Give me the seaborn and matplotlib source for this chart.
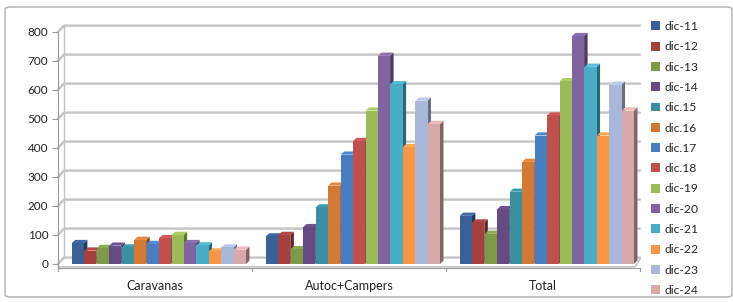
import matplotlib
matplotlib.use("Agg")
import matplotlib.pyplot as plt
import seaborn as sns
import pandas as pd
import numpy as np
from matplotlib.patches import Polygon, Patch, FancyBboxPatch
import matplotlib.colors as mcolors

categories = ["Caravanas", "Autoc+Campers", "Total"]
series = ["dic-11", "dic-12", "dic-13", "dic-14", "dic.15", "dic.16", "dic.17",
          "dic.18", "dic-19", "dic-20", "dic-21", "dic-22", "dic-23", "dic-24"]
caravanas = [72, 46, 55, 63, 57, 83, 69, 89, 100, 72, 64, 43, 57, 49]
autoc = [95, 100, 51, 127, 195, 270, 377, 424, 529, 718, 620, 403, 563, 483]
total = [166, 143, 104, 189, 249, 352, 443, 512, 630, 786, 680, 443, 618, 529]
colors = ["#3A6098", "#A4403D", "#7E9A48", "#654A84", "#3A8FA0", "#D27A35", "#4A7DC0",
          "#C0504D", "#9BBB59", "#8064A2", "#4BACC6", "#F79646", "#A9B8D9", "#D9A8A8"]
yticks = [0, 100, 200, 300, 400, 500, 600, 700, 800]

rows = []
for ci, cat in enumerate(categories):
    vals = [caravanas, autoc, total][ci]
    for s, v in zip(series, vals):
        rows.append({"cat": cat, "serie": s, "val": v})
df = pd.DataFrame(rows)

sns.set_style("white")
plt.rcParams['font.family'] = ['Lato', 'DejaVu Sans']

W, H = 733, 302
fig = plt.figure(figsize=(W / 100, H / 100), dpi=100)
ax = fig.add_axes([58 / W, (H - 268) / H, 582 / W, 236 / H])

sns.barplot(data=df, x="cat", y="val", hue="serie", palette=colors, order=categories,
            hue_order=series, width=0.9, gap=0.03, ax=ax, legend=False,
            saturation=1, edgecolor="none", linewidth=0)

ax.set_xlim(-0.52, 2.48)
ax.set_ylim(-14, 800)

# 3D effect for bars
for p in list(ax.patches):
    x, y0 = p.get_x(), p.get_y()
    w, h = p.get_width(), p.get_height()
    rgb = np.array(mcolors.to_rgb(p.get_facecolor()))
    dx = 3.5 / 194
    dy = 11
    z = 2 + x
    p.set_zorder(z)
    side = Polygon([(x + w, y0), (x + w + dx, y0 + dy), (x + w + dx, h + dy), (x + w, h)],
                   closed=True, facecolor=rgb * 0.6, edgecolor="none", zorder=z - 0.0001)
    top = Polygon([(x, h), (x + dx, h + dy), (x + w + dx, h + dy), (x + w, h)],
                  closed=True, facecolor=np.clip(rgb * 1.1, 0, 1), edgecolor="none",
                  zorder=z - 0.00005)
    ax.add_patch(side)
    ax.add_patch(top)

# back wall gridlines with perspective
x0 = -0.52
x1 = 2.48
dxw = 6 / 194
dyw = 22
gc = "#C4C4C4"
for v in yticks:
    ax.plot([x0, x0 + dxw, x1], [v, v + dyw, v + dyw], color=gc, lw=1.7,
            zorder=0.5, clip_on=False, solid_joinstyle="round")
# left wall vertical
ax.plot([x0 + dxw, x0 + dxw], [dyw, 800 + dyw], color=gc, lw=1.0, zorder=0.5, clip_on=False)
# floor
ax.plot([x0, x1 - 0.025, x1], [-10, -10, dyw - 6], color=gc, lw=1.2, zorder=0.6, clip_on=False)

# axes styling
for s in ["top", "right"]:
    ax.spines[s].set_visible(False)
for s in ["left", "bottom"]:
    ax.spines[s].set_color("#9A9A9A")
    ax.spines[s].set_linewidth(0.8)
ax.set_yticks(yticks)
ax.set_yticklabels([str(v) for v in yticks], fontsize=8.5, color="#222222")
ax.tick_params(axis="y", length=4, width=0.8, color="#9A9A9A", pad=3, left=True)
ax.set_xticks([-0.02, 0.98, 1.98])
ax.set_xticklabels(categories, fontsize=9, color="#222222")
ax.tick_params(axis="x", length=0, pad=9)
for xb in [x0, 0.48, 1.48, x1]:
    ax.plot([xb, xb], [-14, -26], color="#9A9A9A", lw=0.8, clip_on=False)
ax.set_xlabel("")
ax.set_ylabel("")
ax.grid(False)

# legend
handles = [Patch(facecolor=c, edgecolor="none") for c in colors]
fig.legend(handles, series, loc="upper left", bbox_to_anchor=(651 / W, 1 - 21 / H),
           frameon=False, fontsize=8.7, handlelength=0.75, handleheight=0.75,
           handletextpad=0.35, labelspacing=0.77, borderaxespad=0, borderpad=0)

# outer border
fig.patches.append(FancyBboxPatch((5 / W, 5 / H), (W - 6) / W, (H - 12) / H,
                                  boxstyle="round,pad=0,rounding_size=0.008",
                                  transform=fig.transFigure, facecolor="none",
                                  edgecolor="#B0B0B0", lw=1.0))

fig.savefig("out.png", dpi=100)
